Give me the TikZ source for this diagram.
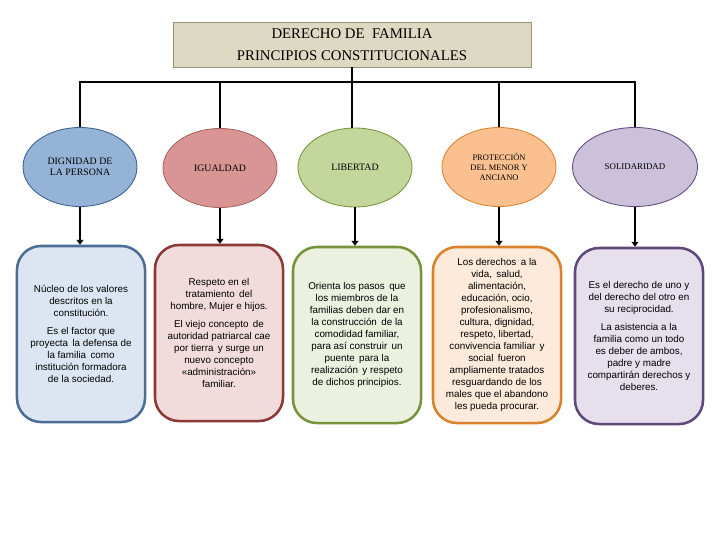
\documentclass[tikz,border=0pt]{standalone}
\usepackage{fontspec}
\setmainfont{Liberation Serif}
\newfontfamily\boxfont{Liberation Sans}
\usetikzlibrary{shapes.geometric,arrows.meta}

\definecolor{titlefill}{RGB}{221,217,195}
\definecolor{titleline}{RGB}{150,146,120}
\definecolor{blueell}{RGB}{149,179,215}
\definecolor{blueline}{RGB}{56,93,138}
\definecolor{bluebox}{RGB}{220,230,242}
\definecolor{redell}{RGB}{217,149,148}
\definecolor{redline}{RGB}{140,56,54}
\definecolor{redbox}{RGB}{242,220,219}
\definecolor{greenell}{RGB}{195,214,155}
\definecolor{greenline}{RGB}{119,147,60}
\definecolor{greenbox}{RGB}{235,241,222}
\definecolor{orangeell}{RGB}{250,192,144}
\definecolor{orangeline}{RGB}{217,130,43}
\definecolor{orangebox}{RGB}{253,234,218}
\definecolor{purpleell}{RGB}{204,193,218}
\definecolor{purpleline}{RGB}{95,73,122}
\definecolor{purplebox}{RGB}{229,224,236}

\begin{document}
\begin{tikzpicture}[x=0.025cm, y=-0.025cm,
    principio/.style={ellipse, draw, line width=0.6pt, inner sep=0pt,
        minimum width=2.85cm, minimum height=1.975cm, align=center,
        font=\fontsize{7}{8}\selectfont},
    detalle/.style={rectangle, rounded corners=0.6cm, draw, line width=1.8pt,
        minimum width=3.2cm, minimum height=4.4cm, align=center, inner sep=2pt,
        font=\boxfont\fontsize{7}{8.5}\selectfont},
    rama/.style={line width=1.8pt},
    flecha/.style={line width=1.4pt, -{Triangle[length=3.5pt,width=5pt]}}]
    \useasboundingbox (0,0) rectangle (720,540);

    \node[draw=titleline, fill=titlefill, minimum width=8.95cm, minimum height=1.125cm,
        align=center, font=\fontsize{10.5}{15.5}\selectfont] (titulo) at (352,44.5)
        {DERECHO DE \ FAMILIA\\PRINCIPIOS CONSTITUCIONALES};

    \node[principio, fill=blueell, draw=blueline] (dignidad) at (80,167) {DIGNIDAD DE\\LA PERSONA};
    \node[principio, fill=redell, draw=redline!80] (igualdad) at (220,168) {IGUALDAD};
    \node[principio, fill=greenell, draw=greenline] (libertad) at (355,167.5) {LIBERTAD};
    \node[principio, fill=orangeell, draw=orangeline, font=\fontsize{6}{7}\selectfont] (proteccion) at (499,167)
        {PROTECCIÓN\\DEL MENOR Y\\ANCIANO};
    \node[principio, fill=purpleell, draw=purpleline, minimum width=3.125cm,
        font=\fontsize{6.3}{7.5}\selectfont] (solidaridad) at (635,167) {SOLIDARIDAD};

    \node[detalle, fill=bluebox, draw=blueline!90] (dignidadtxt) at (81,334)
        {Núcleo de los valores\\descritos en la\\constitución.\\[4pt]
         Es el factor que\\proyecta \,la defensa de\\la familia \,como\\institución formadora\\de la sociedad.};
    \node[detalle, fill=redbox, draw=redline] (igualdadtxt) at (219,333)
        {Respeto en el\\tratamiento \,del\\hombre, Mujer e hijos.\\[4pt]
         El viejo concepto \,de\\autoridad patriarcal cae\\por tierra \,y surge un\\nuevo concepto\\«administración»\\familiar.};
    \node[detalle, fill=greenbox, draw=greenline] (libertadtxt) at (357,335)
        {Orienta los pasos \,que\\los miembros de la\\familias deben dar en\\la construcción \,de la\\comodidad familiar,\\para así construir \,un\\puente \,para la\\realización \,y respeto\\de dichos principios.};
    \node[detalle, fill=orangebox, draw=orangeline] (protecciontxt) at (497,335)
        {Los derechos \,a la\\vida, \,salud,\\alimentación,\\educación, ocio,\\profesionalismo,\\cultura, dignidad,\\respeto, libertad,\\convivencia familiar \,y\\social \,fueron\\ampliamente tratados\\resguardando de los\\males que el abandono\\les pueda procurar.};
    \node[detalle, fill=purplebox, draw=purpleline] (solidaridadtxt) at (639,336)
        {Es el derecho de uno y\\del derecho del otro en\\su reciprocidad.\\[4pt]
         La asistencia a la\\familia como un todo\\es deber de ambos,\\padre y madre\\compartirán derechos y\\deberes.};

    \coordinate (barra) at (352,82);
    \draw[rama] (titulo.south) -- (titulo.south |- libertad.north);
    \draw[rama] (dignidad.north) |- (barra) -| (solidaridad.north);
    \draw[rama] (igualdad.north) -- (igualdad.north |- barra);
    \draw[rama] (proteccion.north) -- (proteccion.north |- barra);

    \draw[flecha] (dignidad.south) -- (dignidad.south |- dignidadtxt.north);
    \draw[flecha] (igualdad.south) -- (igualdad.south |- igualdadtxt.north);
    \draw[flecha] (libertad.south) -- (libertad.south |- libertadtxt.north);
    \draw[flecha] (proteccion.south) -- (proteccion.south |- protecciontxt.north);
    \draw[flecha] (solidaridad.south) -- (solidaridad.south |- solidaridadtxt.north);
\end{tikzpicture}
\end{document}
